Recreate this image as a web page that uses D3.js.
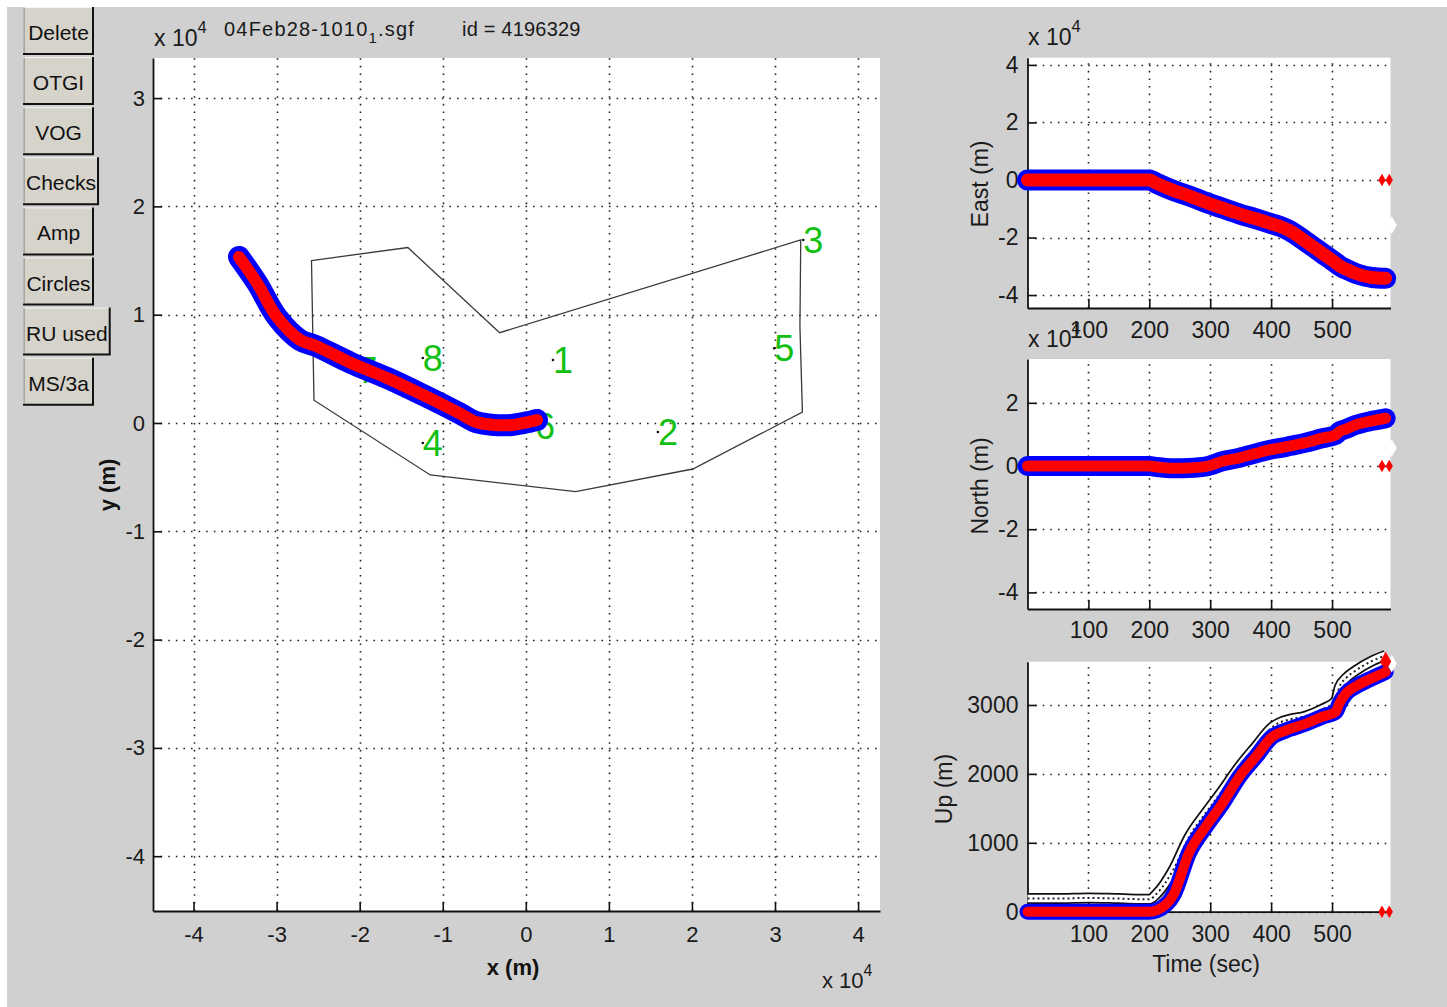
<!DOCTYPE html>
<html>
<head>
<meta charset="utf-8">
<script src="https://cdn.jsdelivr.net/npm/d3@7"></script>
<style>
html, body { margin: 0; padding: 0; background: #fff; }
svg { display: block; font-family: "Liberation Sans", Arial, sans-serif; }
</style>
</head>
<body>
<svg id="fig" width="1447" height="1007"></svg>
<script>
// ---- data ----
const buttonLabels = ["Delete", "OTGI", "VOG", "Checks", "Amp", "Circles", "RU used", "MS/3a"];

// map view (metres)
const mapXTicks = [-40000, -30000, -20000, -10000, 0, 10000, 20000, 30000, 40000];
const mapYTicks = [-40000, -30000, -20000, -10000, 0, 10000, 20000, 30000];

const boundaryX = [-25800, -14200, -3150, 33100, 33000, 33300, 20100, 6000, -11500, -25500];
const boundaryY = [15000, 16200, 8340, 16900, 8900, 1000, -4250, -6340, -4800, 2100];

const stationNames = ["1", "2", "3", "4", "5", "6", "7", "8"];
const stationX = [3270, 15900, 33400, -12400, 29900, 1100, -20300, -12400];
const stationY = [5820, -830, 16900, -1850, 6900, -300, 4900, 6000];

const trackX = [1350, 510, -1660, -3830, -6000, -8040, -12380, -16710, -21050, -25260, -27190, -29960, -32360, -34530];
const trackY = [280, 120, -180, -180, 90, 920, 2590, 4160, 5540, 7110, 7670, 9790, 12930, 15330];

// time series
const timeTicks = [100, 200, 300, 400, 500];
const eastTicks = [-40000, -20000, 0, 20000, 40000];
const northTicks = [-40000, -20000, 0, 20000];
const upTicks = [0, 1000, 2000, 3000];

const timeSec = [0, 50, 100, 150, 200, 212, 240, 265, 294, 320, 348, 375, 402, 418, 430, 457, 484, 506, 512, 523, 539, 566, 588];
const eastM  = [0, 0, 0, 0, 0, -1200, -3700, -5500, -7900, -9800, -11800, -13500, -15300, -16400, -17600, -21400, -25500, -28800, -29800, -31000, -32500, -33900, -34200];
const northM = [0, 0, 0, 0, 0, -300, -700, -600, -100, 1500, 2600, 4000, 5300, 5800, 6300, 7400, 8800, 9800, 10900, 11700, 13000, 14300, 15100];
const upM    = [0, 0, 0, 0, 0, 20, 250, 850, 1250, 1570, 1960, 2250, 2540, 2610, 2650, 2730, 2830, 2900, 3020, 3170, 3270, 3390, 3480];
const upRefM = [190, 190, 200, 190, 180, 260, 620, 1080, 1450, 1760, 2110, 2400, 2680, 2760, 2790, 2840, 2940, 3060, 3260, 3390, 3500, 3640, 3720];

// flagged fixes at the right edge
const zeroFlagT = [582, 594];
const lastFixT = 598;
const lastFixEast = -15700;
const lastFixNorth = 5700;
const lastFixUp = 3600;
const upEndT = 588;
const upEndM = 3630;

// ---- drawing ----
const svg = d3.select("#fig");
const FONT = '"Liberation Sans", Arial, sans-serif';

svg.append("rect").attr("x", 7).attr("y", 7).attr("width", 1440).attr("height", 1000).attr("fill", "#d0d0d0");

// buttons
const btnG = svg.append("g").attr("font-size", 21).attr("fill", "#111");
buttonLabels.forEach((label, i) => {
    const y = 7 + i * 50.1;
    const b = btnG.append("g");
    const t = b.append("text").attr("y", y + 33).attr("text-anchor", "middle").text(label);
    const tw = t.node().getComputedTextLength();
    const w = Math.max(71, tw + 6);
    const x = 23;
    b.insert("rect", "text").attr("x", x).attr("y", y).attr("width", w).attr("height", 48).attr("fill", "#d6d3cb");
    b.insert("path", "text").attr("d", `M${x + 0.5},${y + 48}V${y + 0.5}H${x + w}`).attr("fill", "none").attr("stroke", "#f4f4f4").attr("stroke-width", 1);
    b.insert("path", "text").attr("d", `M${x},${y + 47}H${x + w - 1}V${y}`).attr("fill", "none").attr("stroke", "#111").attr("stroke-width", 2);
    b.insert("path", "text").attr("d", `M${x + 1},${y + 0.5}V${y + 46}`).attr("fill", "none").attr("stroke", "#7a7a7a").attr("stroke-width", 1);
    t.attr("x", x + w / 2);
});

function multiplier(x, y, fs) {
    const t = svg.append("text").attr("x", x).attr("y", y).attr("font-size", fs).attr("fill", "#1a1a1a");
    t.append("tspan").text("x 10");
    t.append("tspan").attr("dy", -fs * 0.55).attr("font-size", fs * 0.72).text("4");
}

function drawFrame(x, y, xTicks, yTicks, fmtX, fmtY, fs, padX, padY) {
    const [x0, x1] = x.range();
    const [y0, y1] = y.range();
    const g = svg.append("g");
    g.append("rect").attr("x", x0).attr("y", y1).attr("width", x1 - x0).attr("height", y0 - y1).attr("fill", "#fff");
    const grid = g.append("g").attr("stroke", "#222").attr("stroke-width", 1.6).attr("stroke-dasharray", "1.6,6");
    grid.selectAll("line.gx").data(xTicks).join("line").attr("class", "gx")
        .attr("x1", d => Math.round(x(d)) + 0.5).attr("x2", d => Math.round(x(d)) + 0.5)
        .attr("y1", y0).attr("y2", y1);
    grid.selectAll("line.gy").data(yTicks).join("line").attr("class", "gy")
        .attr("y1", d => Math.round(y(d)) + 0.5).attr("y2", d => Math.round(y(d)) + 0.5)
        .attr("x1", x0).attr("x2", x1);
    const axB = g.append("g").attr("transform", `translate(0,${y0})`)
        .call(d3.axisBottom(x).tickValues(xTicks).tickFormat(fmtX).tickSizeInner(-9).tickSizeOuter(0).tickPadding(padX));
    const axL = g.append("g").attr("transform", `translate(${x0},0)`)
        .call(d3.axisLeft(y).tickValues(yTicks).tickFormat(fmtY).tickSizeInner(-9).tickSizeOuter(0).tickPadding(padY));
    [axB, axL].forEach(a => {
        a.attr("font-size", fs).attr("font-family", FONT);
        a.select(".domain").attr("stroke", "#111").attr("stroke-width", 1.8);
        a.selectAll(".tick line").attr("stroke", "#111").attr("stroke-width", 1.6);
        a.selectAll(".tick text").attr("fill", "#1a1a1a");
    });
    return g;
}

// MATLAB style labels: plain hyphen for negatives
const fmt4 = d => String(d / 10000);
const fmtT = d => String(d);

// ---- map axes ----
const mapX = d3.scaleLinear().domain([-44880, 42640]).range([153, 880]);
const mapY = d3.scaleLinear().domain([-45060, 33700]).range([911, 58]);
drawFrame(mapX, mapY, mapXTicks, mapYTicks, fmt4, fmt4, 22, 15, 8);

svg.append("path")
    .attr("d", d3.line().x(i => mapX(boundaryX[i])).y(i => mapY(boundaryY[i])).curve(d3.curveLinearClosed)(d3.range(boundaryX.length)))
    .attr("fill", "none").attr("stroke", "#3a3a3a").attr("stroke-width", 1.3);

const st = svg.append("g");
st.selectAll("circle").data(stationNames).join("circle")
    .attr("cx", (d, i) => mapX(stationX[i])).attr("cy", (d, i) => mapY(stationY[i])).attr("r", 1.3).attr("fill", "#111");
st.selectAll("text").data(stationNames).join("text")
    .attr("x", (d, i) => mapX(stationX[i])).attr("y", (d, i) => mapY(stationY[i]))
    .attr("dy", "0.36em").attr("font-size", 36).attr("fill", "#12c012").text(d => d);

const trackLine = d3.line().x(i => mapX(trackX[i])).y(i => mapY(trackY[i])).curve(d3.curveCatmullRom);
const trackIdx = d3.range(trackX.length);
svg.append("path").attr("d", trackLine(trackIdx)).attr("fill", "none").attr("stroke", "#0000ff")
    .attr("stroke-width", 22).attr("stroke-linecap", "round").attr("stroke-linejoin", "round");
svg.append("path").attr("d", trackLine(trackIdx)).attr("fill", "none").attr("stroke", "#ff0000")
    .attr("stroke-width", 12).attr("stroke-linecap", "round").attr("stroke-linejoin", "round");

// map labels
svg.append("text").attr("x", 513).attr("y", 975).attr("text-anchor", "middle").attr("font-size", 22)
    .attr("font-weight", "bold").attr("fill", "#111").text("x (m)");
svg.append("text").attr("transform", "translate(115,485) rotate(-90)").attr("text-anchor", "middle").attr("font-size", 22)
    .attr("font-weight", "bold").attr("fill", "#111").text("y (m)");
multiplier(154, 46, 23);
multiplier(822, 988, 22);

const title = svg.append("text").attr("x", 224).attr("y", 36).attr("font-size", 20)
    .attr("letter-spacing", 1.2).attr("fill", "#1a1a1a");
title.append("tspan").text("04Feb28-1010");
title.append("tspan").attr("dy", 7).attr("font-size", 15).text("1");
title.append("tspan").attr("dy", -7).text(".sgf");
svg.append("text").attr("x", 462).attr("y", 36).attr("font-size", 20).attr("letter-spacing", 0.2)
    .attr("fill", "#1a1a1a").text("id = 4196329");

// ---- time series panels ----
const timeX = d3.scaleLinear().domain([0, 596]).range([1027.5, 1390.5]);
const eastY = d3.scaleLinear().domain([-44500, 42500]).range([308, 57.7]);
const northY = d3.scaleLinear().domain([-45250, 33860]).range([609, 359]);
const upY = d3.scaleLinear().domain([0, 3628]).range([911.7, 661.7]);

// multipliers go under the tick labels of the panel above, as in the original
multiplier(1028, 45, 23);
multiplier(1028, 347, 23);

drawFrame(timeX, eastY, timeTicks, eastTicks, fmtT, fmt4, 23, 14, 9);
drawFrame(timeX, northY, timeTicks, northTicks, fmtT, fmt4, 23, 13, 9);
drawFrame(timeX, upY, timeTicks, upTicks, fmtT, fmtT, 23, 14, 9);

const tsIdx = d3.range(timeSec.length);

function band(values, yScale, blueW, redW) {
    const line = d3.line().x(i => timeX(timeSec[i])).y(i => yScale(values[i])).curve(d3.curveMonotoneX);
    svg.append("path").attr("d", line(tsIdx)).attr("fill", "none").attr("stroke", "#0000ff")
        .attr("stroke-width", blueW).attr("stroke-linecap", "round").attr("stroke-linejoin", "round");
    svg.append("path").attr("d", line(tsIdx)).attr("fill", "none").attr("stroke", "#ff0000")
        .attr("stroke-width", redW).attr("stroke-linecap", "round").attr("stroke-linejoin", "round");
}

function flags(yScale, lastVal) {
    svg.append("g").selectAll("path").data(zeroFlagT).join("path")
        .attr("transform", d => `translate(${timeX(d)},${yScale(0)})`)
        .attr("d", d3.symbol(d3.symbolDiamond, 45)).attr("fill", "#ff0000");
    svg.append("path").attr("transform", `translate(${timeX(lastFixT)},${yScale(lastVal)})`)
        .attr("d", d3.symbol(d3.symbolDiamond, 90)).attr("fill", "#ffffff");
}

// Up reference altitude (black open triangles in the original)
const refLine = d3.line().x(i => timeX(timeSec[i])).y(i => upY(upRefM[i])).curve(d3.curveMonotoneX);
svg.append("path").attr("d", refLine(tsIdx)).attr("fill", "none").attr("stroke", "#111").attr("stroke-width", 11).attr("stroke-linejoin", "round");
svg.append("path").attr("d", refLine(tsIdx)).attr("fill", "none").attr("stroke", "#fff").attr("stroke-width", 7.5).attr("stroke-linejoin", "round");
svg.append("path").attr("d", refLine(tsIdx)).attr("fill", "none").attr("stroke", "#222").attr("stroke-width", 2).attr("stroke-dasharray", "2,3");

band(eastM, eastY, 21, 13);
band(northM, northY, 20, 11);
band(upM, upY, 16, 10);

flags(eastY, lastFixEast);
flags(northY, lastFixNorth);
flags(upY, lastFixUp);
svg.append("path").attr("transform", `translate(${timeX(upEndT)},${upY(upEndM)})`)
    .attr("d", d3.symbol(d3.symbolDiamond, 110)).attr("fill", "#ff0000");

// panel labels
const lab = (txt, x, y, rot) => svg.append("text")
    .attr("transform", `translate(${x},${y})` + (rot ? " rotate(-90)" : ""))
    .attr("text-anchor", "middle").attr("font-size", 23).attr("fill", "#1a1a1a").text(txt);
lab("East (m)", 988, 184, true);
lab("North (m)", 988, 486, true);
lab("Up (m)", 952, 789, true);
lab("Time (sec)", 1206, 972, false);
</script>
</body>
</html>
